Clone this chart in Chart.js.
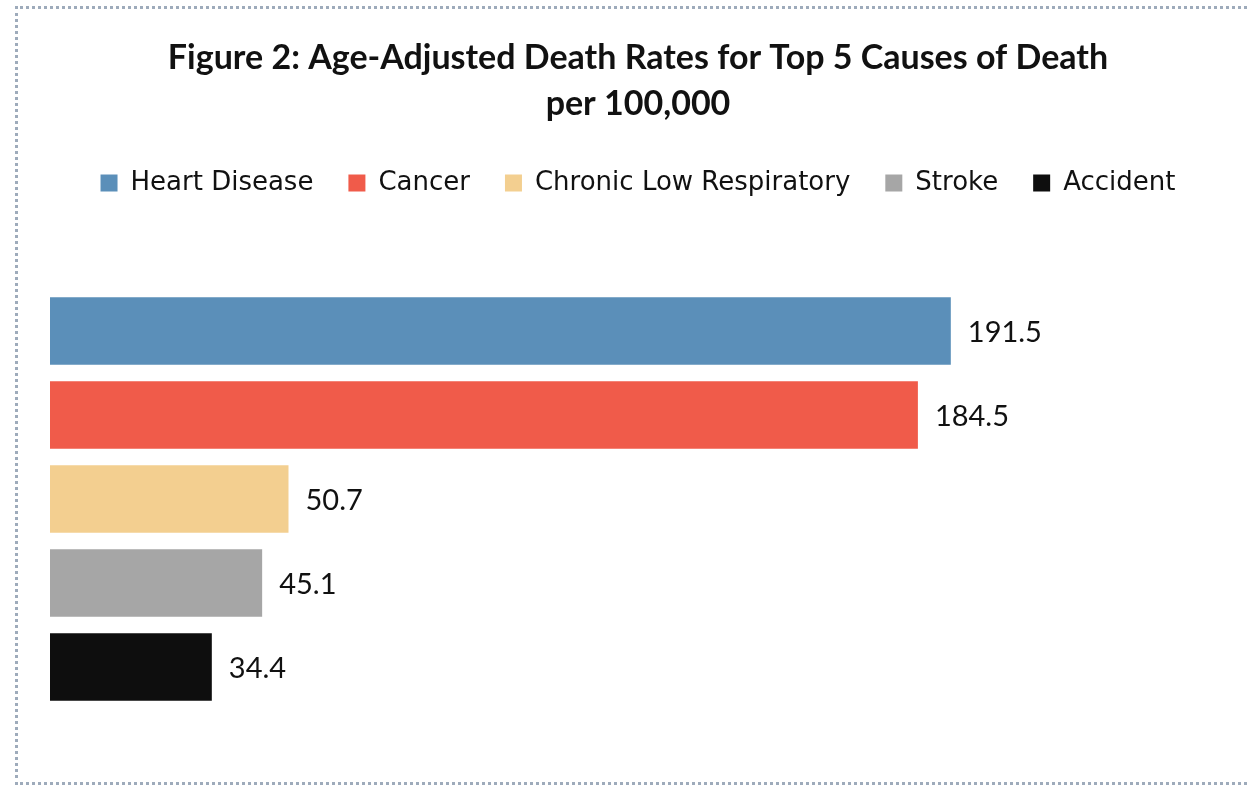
<!DOCTYPE html>
<html>
<head>
<meta charset="utf-8">
<script src="https://cdn.jsdelivr.net/npm/chart.js@4"></script>
<style>
  html, body { margin: 0; padding: 0; background: #fff; }
  #wrap { position: relative; width: 1247px; height: 788px; }
  #frame {
    position: absolute; left: 15px; top: 6px; width: 1240px; height: 773px;
    border-left: 3px dotted #9eabbb; border-top: 3px dotted #9eabbb; border-bottom: 3px dotted #9eabbb;
  }
  canvas { position: absolute; left: 0; top: 0; }
</style>
</head>
<body>
<div id="wrap">
  <div id="frame"></div>
  <canvas id="deaths" width="1247" height="788"></canvas>
</div>
<script>
var causes = ['Heart Disease', 'Cancer', 'Chronic Low Respiratory', 'Stroke', 'Accident'];
var rates = [191.5, 184.5, 50.7, 45.1, 34.4];
var colors = ['#5b8fb9', '#f05b4a', '#f3cf90', '#a6a6a6', '#0e0e0e'];

// one dataset per cause so each one gets its own legend entry
var datasets = [];
for (var i = 0; i < causes.length; i++) {
  datasets.push({
    label: causes[i],
    data: [rates[i]],
    backgroundColor: colors[i],
    borderWidth: 0,
    barPercentage: 0.806,
    categoryPercentage: 1
  });
}

// push the bars down below the legend
var legendGap = {
  id: 'legendGap',
  beforeInit: function(chart) {
    var fit = chart.legend.fit;
    chart.legend.fit = function() {
      fit.bind(chart.legend)();
      this.height += 83;
    };
  }
};

// value written just right of each bar
var barValues = {
  id: 'barValues',
  afterDatasetsDraw: function(chart) {
    var c = chart.ctx;
    c.save();
    c.font = '29px Lato, sans-serif';
    c.fillStyle = '#111';
    c.textBaseline = 'middle';
    chart.data.datasets.forEach(function(ds, i) {
      var bar = chart.getDatasetMeta(i).data[0];
      c.fillText(ds.data[0].toFixed(1), bar.x + 17, bar.y + 2);
    });
    c.restore();
  }
};

new Chart(document.getElementById('deaths'), {
  type: 'bar',
  data: { labels: [''], datasets: datasets },
  plugins: [legendGap, barValues],
  options: {
    indexAxis: 'y',
    responsive: false,
    animation: false,
    layout: { padding: { left: 50, right: 21, bottom: 79 } },
    scales: {
      x: { display: false, min: 0, max: 250 },
      y: { display: false }
    },
    plugins: {
      tooltip: { enabled: false },
      title: {
        display: true,
        text: ['Figure 2: Age-Adjusted Death Rates for Top 5 Causes of Death', 'per 100,000'],
        color: '#111',
        font: { family: 'Lato, sans-serif', size: 34, weight: 'bold', lineHeight: 1.353 },
        padding: { top: 35, bottom: 8 }
      },
      legend: {
        position: 'top',
        labels: {
          color: '#111',
          boxWidth: 17,
          boxHeight: 17,
          padding: 35,
          font: { family: '"DejaVu Sans", sans-serif', size: 26 }
        }
      }
    }
  }
});
</script>
</body>
</html>
